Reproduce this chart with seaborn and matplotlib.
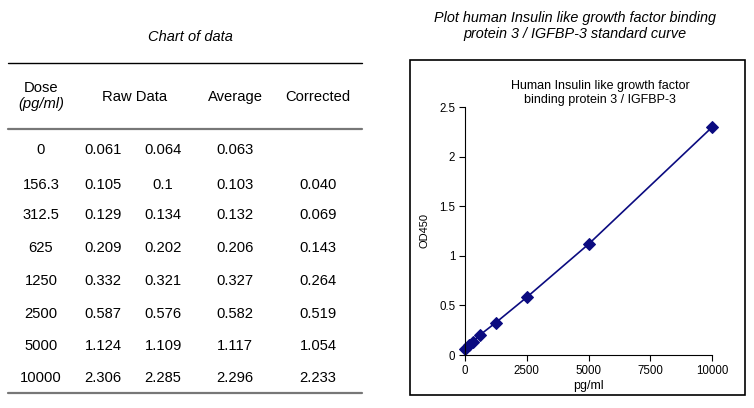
import matplotlib
matplotlib.use('Agg')
import matplotlib.pyplot as plt
import seaborn as sns
import pandas as pd
from matplotlib.lines import Line2D
from matplotlib.patches import Rectangle

# ── Data ─────────────────────────────────────────────────────────────────────
dose      = [0, 156.3, 312.5, 625, 1250, 2500, 5000, 10000]
dose_lbl  = ["0", "156.3", "312.5", "625", "1250", "2500", "5000", "10000"]
raw_1     = ["0.061", "0.105", "0.129", "0.209", "0.332", "0.587", "1.124", "2.306"]
raw_2     = ["0.064", "0.1", "0.134", "0.202", "0.321", "0.576", "1.109", "2.285"]
average   = [0.063, 0.103, 0.132, 0.206, 0.327, 0.582, 1.117, 2.296]
corrected = ["", "0.040", "0.069", "0.143", "0.264", "0.519", "1.054", "2.233"]

x_ticks = [0, 2500, 5000, 7500, 10000]
y_ticks = [0, 0.5, 1, 1.5, 2, 2.5]

sns.set_style("white")
plt.rcParams['font.family'] = ['Liberation Sans', 'DejaVu Sans']
plt.rcParams['text.color'] = 'black'
plt.rcParams['axes.labelcolor'] = 'black'
plt.rcParams['xtick.color'] = 'black'
plt.rcParams['ytick.color'] = 'black'

W, H = 754, 408
fig = plt.figure(figsize=(W / 100, H / 100), dpi=100)

def fx(px):
    return px / W

def fy(py):
    return 1 - py / H

# ── Left: table ──────────────────────────────────────────────────────────────
fig.text(fx(190), fy(37), "Chart of data", ha='center', va='center',
         fontsize=10.5, style='italic')

for y, col, lw in [(63, 'black', 1.0), (129, '#777777', 1.6), (393, '#777777', 1.6)]:
    fig.add_artist(Line2D([fx(8), fx(362)], [fy(y), fy(y)], color=col, lw=lw,
                          transform=fig.transFigure))

TS = 10.6
fig.text(fx(41), fy(88), "Dose", ha='center', va='center', fontsize=TS)
fig.text(fx(41), fy(104), "(pg/ml)", ha='center', va='center', fontsize=TS, style='italic')
fig.text(fx(135), fy(97), "Raw Data", ha='center', va='center', fontsize=TS)
fig.text(fx(235), fy(97), "Average", ha='center', va='center', fontsize=TS)
fig.text(fx(318), fy(97), "Corrected", ha='center', va='center', fontsize=TS)

row_y = [150, 185, 215, 248, 281, 314, 346, 378]
for i, y in enumerate(row_y):
    fig.text(fx(41), fy(y), dose_lbl[i], ha='center', va='center', fontsize=TS)
    fig.text(fx(103), fy(y), raw_1[i], ha='center', va='center', fontsize=TS)
    fig.text(fx(163), fy(y), raw_2[i], ha='center', va='center', fontsize=TS)
    fig.text(fx(235), fy(y), f"{average[i]:.3f}", ha='center', va='center', fontsize=TS)
    fig.text(fx(318), fy(y), corrected[i], ha='center', va='center', fontsize=TS)

# ── Right: standard curve ────────────────────────────────────────────────────
fig.text(fx(575), fy(26), "Plot human Insulin like growth factor binding\nprotein 3 / IGFBP-3 standard curve",
         ha='center', va='center', fontsize=10.4, style='italic', linespacing=1.1)

fig.add_artist(Rectangle((fx(410), fy(395)), fx(745) - fx(410), fy(60) - fy(395),
                         fill=False, ec='black', lw=1.2, transform=fig.transFigure))

ax = fig.add_axes([fx(465), fy(355), fx(712) - fx(465), fy(107) - fy(355)])
df = pd.DataFrame({"pg/ml": dose, "OD450": average})
sns.lineplot(data=df, x="pg/ml", y="OD450", ax=ax, color='#0b0b80', lw=1.2,
             marker='D', markersize=6, markeredgecolor='#0b0b80')

ax.set_xlim(0, 10000)
ax.set_ylim(0, 2.5)
ax.set_xticks(x_ticks)
ax.set_yticks(y_ticks)
ax.set_xticklabels([str(t) for t in x_ticks])
ax.set_yticklabels(["0", "0.5", "1", "1.5", "2", "2.5"])
ax.tick_params(axis='both', labelsize=8.3, length=4, width=0.8, direction='out',
               bottom=True, left=True, pad=3)
for s in ['top', 'right']:
    ax.spines[s].set_visible(False)
for s in ['left', 'bottom']:
    ax.spines[s].set_color('black')
    ax.spines[s].set_linewidth(0.8)
ax.set_xlabel("pg/ml", fontsize=9, labelpad=2)
ax.set_ylabel("OD450", fontsize=8, labelpad=7)
for line in ax.lines:
    line.set_clip_on(False)

fig.text(fx(600), fy(93), "Human Insulin like growth factor\nbinding protein 3 / IGFBP-3",
         ha='center', va='center', fontsize=9, linespacing=1.25)

fig.savefig("out.png", dpi=100)
